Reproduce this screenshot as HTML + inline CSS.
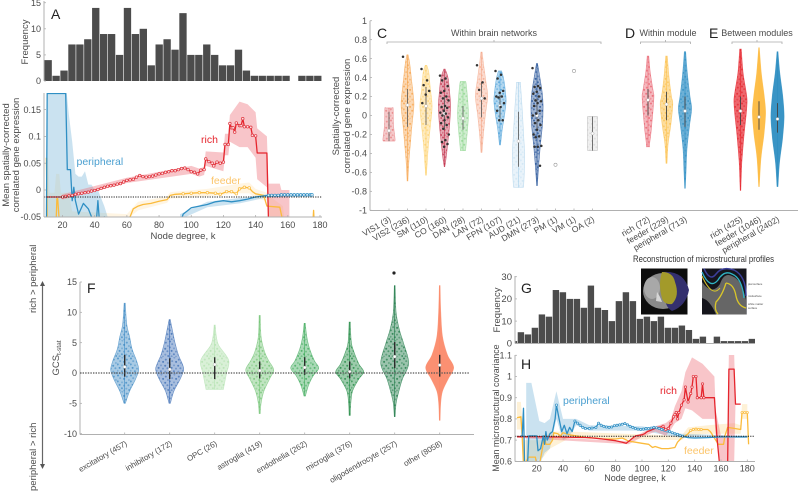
<!DOCTYPE html>
<html lang="en">
<head>
<meta charset="utf-8">
<title>Gene expression and microstructure figure</title>
<style>
html,body{margin:0;padding:0;background:#fff;}
svg{display:block;font-family:"Liberation Sans",sans-serif;filter:blur(0.3px);}
text{fill:#4a4a4a;}
.letter{font-size:14px;fill:#222;}
.tick{font-size:9px;}
.lab{font-size:9.5px;}
.cat{font-size:8.5px;}
.catf{font-size:7.9px;}
</style>
</head>
<body>
<svg id="figure" width="798" height="491" viewBox="0 0 798 491" xmlns="http://www.w3.org/2000/svg">
  <defs id="defs">
    <clipPath id="clipB"><rect x="44" y="93" width="278" height="124"/></clipPath>
    <clipPath id="clipH"><rect x="515" y="355" width="240" height="106.5"/></clipPath>
    <clipPath id="clipG"><rect x="515" y="270" width="240" height="74"/></clipPath>
  </defs>

  <g id="panelA">
    <text class="letter" x="51" y="19">A</text>
    <text class="lab" transform="translate(28 42) rotate(-90)" text-anchor="middle">Frequency</text>
  </g>

  <g id="panelB">
    <text class="lab" transform="translate(9 155) rotate(-90)" text-anchor="middle">Mean spatially-corrected</text>
    <text class="lab" transform="translate(19 155) rotate(-90)" text-anchor="middle">correlated gene expression</text>
    <text class="lab" x="183" y="239" text-anchor="middle">Node degree, k</text>
  </g>

  <g id="panelC">
    <text class="letter" x="377" y="38">C</text>
    <text class="lab" transform="translate(339 116) rotate(-90)" text-anchor="middle">Spatially-corrected</text>
    <text class="lab" transform="translate(350 116) rotate(-90)" text-anchor="middle">correlated gene expression</text>
    <text class="cat" style="font-size:9px" x="494" y="36" text-anchor="middle">Within brain networks</text>
    <path d="M387 44V42H601V44M494 42V40" fill="none" stroke="#aaa" stroke-width=".8"/>
    <text class="letter" x="625" y="38">D</text>
    <text class="cat" style="font-size:9px" x="668" y="36" text-anchor="middle">Within module</text>
    <path d="M640.5 44V42H690.5V44M665.5 42V40" fill="none" stroke="#aaa" stroke-width=".8"/>
    <text class="letter" x="709" y="38">E</text>
    <text class="cat" style="font-size:9px" x="757" y="36" text-anchor="middle">Between modules</text>
    <path d="M732 44V42H782V44M757 42V40" fill="none" stroke="#aaa" stroke-width=".8"/>
  </g>

  <g id="panelF">
    <text class="letter" x="87" y="293">F</text>
    <text class="lab" transform="translate(59 358) rotate(-90)" text-anchor="middle">GCS<tspan dy="2" font-size="6.5">t-stat</tspan></text>
    <text class="lab" transform="translate(36 313) rotate(-90)">rich &gt; peripheral</text>
    <text class="lab" transform="translate(36 491) rotate(-90)">peripheral &gt; rich</text>
    <path d="M42.5 284V466" stroke="#666" stroke-width="1.2" fill="none"/>
    <path d="M42.5 281l-2.5 5h5z" fill="#555"/>
    <path d="M42.5 469l-2.5 -5h5z" fill="#555"/>
    <circle cx="394" cy="273" r="1.6" fill="#222"/>
  </g>

  <g id="panelG">
    <text class="letter" x="521" y="293">G</text>
    <text class="lab" transform="translate(500 310) rotate(-90)" text-anchor="middle">Frequency</text>
  </g>

  <g id="panelH">
    <text class="letter" x="521" y="369">H</text>
    <text class="cat" style="font-size:8.8px" transform="translate(499 408) rotate(-90)" text-anchor="middle">Mean microstructural covariance</text>
    <text class="cat" style="font-size:9px" x="635" y="481" text-anchor="middle">Node degree, k</text>
  </g>

  <g id="insets">
    <text x="633" y="262" textLength="141" lengthAdjust="spacingAndGlyphs" style="font-size:8.8px;fill:#333">Reconstruction of microstructural profiles</text>
    <g>
      <rect x="641" y="268.5" width="46.5" height="46" fill="#0d0d0d"/>
      <ellipse cx="663" cy="291" rx="20" ry="18" fill="#8a8a8a"/>
      <ellipse cx="652" cy="288" rx="8" ry="11" fill="#a8a8a8"/>
      <path d="M662 272 Q684 270 689 290 Q686 306 672 311 Q664 306 666 296 Q660 284 662 272Z" fill="#34306e"/>
      <path d="M662 272 Q673 272 675 282 Q680 296 672 304 Q664 305 662 298 Q658 284 662 272Z" fill="#a39a2a"/>
      <path d="M657 292 q3 4 5 10 l-6 -1z" fill="#d6d6d6"/>
    </g>
    <g>
      <rect x="702" y="268.5" width="44.5" height="46" fill="#15151c"/>
      <path d="M702 282 Q712 296 720 284 Q724 272 732 276 Q742 280 746 300 V314.5 H716 Q710 300 702 298Z" fill="#666"/>
      <path d="M704 268.5 Q710 282 716 274 Q722 266 734 270 Q746 276 746 296" fill="none" stroke="#3b3f99" stroke-width="1.5"/>
      <path d="M702 272 Q710 290 718 280 Q724 270 732 274 Q742 278 744 298" fill="none" stroke="#2fb4c4" stroke-width="1.3"/>
      <path d="M726 283 Q722 296 716 302 Q714 310 718 314 M726 283 Q734 284 736 296 Q738 306 746 308" fill="none" stroke="#d9c62a" stroke-width="1.3"/>
      <path d="M702 276 Q712 298 720 288" fill="none" stroke="#d9c62a" stroke-width="1"/>
    </g>
    <text x="748" y="285" style="font-size:2.8px">pial surface</text>
    <text x="748" y="297" style="font-size:2.8px">midsurface</text>
    <text x="748" y="305" style="font-size:2.8px">white matter</text>
    <text x="748" y="309" style="font-size:2.8px">surface</text>
  </g>
</svg>

<script>
/* ---------- Panel A / G histograms ---------- */
const histA = [4,1,2,7,7,8,14,9,9,5,14,9,10,3,7,8,6,13,5,5,7,5,3,3,6,2,1,1,1,1,1,0,1,1,1];
const histG = [1,5,4,7,13,12,24,23,20,20,16,26,16,15,10,19,23,19,11,12,10,12,7,7,8,6,2,3,0,3,1,1,1,1,2];
const ticksA = [0,5,10,15];
const ticksG = [0,10,20,30];

/* ---------- Panel B series ---------- */
const ticksBY = [-0.05,0,0.05,0.1,0.15];
const tickLabelsBY = ['-0.05','0','0.05','0.1','0.15'];
const ticksDegree = [20,40,60,80,100,120,140,160,180];
const bRichK = [10,14,18,20,22,24,26,28,30,32,34,36,38,40,42,44,46,48,50,52,54,56,58,60,62,64,66,68,70,72,74,76,78,80,82,84,86,88,90,92,94,96,98,100,102,104,106,108,109,111,113,114,116,118,120,121,123,124,125,126,127,128,130,131,132,133,135,137,138,140,141,147,148];
const bRichV = [-.013,-.013,-.013,-.013,-.012,-.011,-.01,-.008,-.007,-.006,-.005,-.004,-.002,-.001,.001,.003,.005,.007,.008,.009,.011,.012,.015,.018,.019,.02,.024,.027,.025,.024,.025,.026,.028,.03,.031,.033,.034,.036,.036,.038,.04,.041,.038,.034,.033,.03,.037,.038,.058,.053,.05,.045,.052,.05,.052,.085,.085,.124,.116,.116,.108,.125,.12,.12,.133,.118,.118,.117,.102,.101,.069,.069,-.06];
const bRichBandK = [20,60,100,105,108,109,120,121,123,124,130,135,140,141,147,148,155,156,161];
const bRichBandHi = [-.008,.023,.045,.04,.043,.072,.07,.105,.105,.14,.165,.16,.145,.115,.1,.012,.012,0,0];
const bRichBandLo = [-.018,.013,.03,.025,.028,.045,.035,.065,.065,.09,.08,.08,.06,.02,.005,-.06,-.06,-.06,-.06];
const bPeriK = [10,10.5,22,23,25,26,27,28,30,33,36,38,41,42,43,46,48,92,95,100,105,110,115,120,125,130,135,140,145,148,150,152,154,156,158,160,162,164,166,168,170,172,174,175];
const bPeriV = [-.06,.18,.18,.038,.038,-.02,.005,-.02,-.045,-.025,-.035,-.05,-.06,-.02,-.06,-.05,-.07,-.07,-.045,-.033,-.03,-.027,-.022,-.02,-.022,-.02,-.017,-.013,-.011,-.01,-.01,-.01,-.01,-.009,-.009,-.009,-.009,-.009,-.009,-.009,-.009,-.009,-.009,-.009];
const bPeriBandK = [10,11,22,24,26,28,30,32,34,36,38,40,42,44,46,48];
const bPeriBandHi = [-.06,.2,.2,.14,.09,.03,.025,.025,.035,.01,.01,0,0,-.015,-.03,-.05];
const bPeriBandLo = [-.06,-.06,-.06,-.06,-.06,-.06,-.06,-.06,-.06,-.06,-.06,-.06,-.06,-.06,-.06,-.06];
const bPeriBand2K = [93,110,130,147,175];
const bPeriBand2Hi = [-.045,-.022,-.015,-.008,-.006];
const bPeriBand2Lo = [-.055,-.032,-.025,-.014,-.012];
const bFeedK = [10,10.5,16,16.5,17,18,60,62,64,67,70,75,80,85,87,90,95,100,105,110,115,118,122,125,128,130,133,136,138,140,145,147,155,157,175.6,176,176.4];
const bFeedV = [.06,-.06,-.06,-.016,-.016,-.06,-.06,-.05,-.035,-.03,-.027,-.025,-.021,-.018,-.01,-.008,-.007,-.006,-.005,-.005,-.006,-.008,-.003,-.003,-.007,.002,.005,.004,-.003,-.007,-.01,-.03,-.032,-.06,-.06,-.038,-.06];
const bFeedBandK = [10,11,12,15,16,18,19,24,26,60,67,85,87,110,130,136,140,147,148,157,158];
const bFeedBandHi = [.06,.06,-.005,-.005,.03,.03,-.005,-.005,-.04,-.045,-.022,-.012,-.004,.002,.012,.014,.002,-.005,-.01,-.03,-.06];
const bFeedBandLo = [-.06,-.06,-.06,-.06,-.06,-.06,-.06,-.06,-.06,-.055,-.038,-.024,-.016,-.012,-.006,-.006,-.016,-.02,-.05,-.06,-.06];
const bFeedMarkK = [95,100,105,110,115,118,122,125,128,130,133,136];
const bFeedMarkV = [-.007,-.006,-.005,-.005,-.006,-.008,-.003,-.003,-.007,.002,.005,.004];

/* ---------- Panel C, D, E violins ---------- */
const ticksC = [-1,-.8,-.6,-.4,-.2,0,.2,.4,.6,.8,1];
const tickLabelsC = ['-1','-0.8','-0.6','-0.4','-0.2','0','0.2','0.4','0.6','0.8','1'];
const networkNames = ['VIS1 (3)','VIS2 (236)','SM (110)','CO (160)','DAN (28)','LAN (72)','FPN (107)','AUD (21)','DMN (273)','PM (1)','VM (1)','OA (2)'];
const networkColors = ['#e77f81','#f6a24a','#fdd06a','#c2304a','#8ed58e','#f5a98c','#4a9fd8','#a9d0ea','#1f4f96','#888888','#888888','#b5b5b5'];
const networkValues = [
  [.08,.07,-.1,-.25,-.27],
  [.64,.55,.4,.2,.1,-.1,-.3,-.5,-.69],
  [.53,.45,.3,.1,-.1,-.3,-.5,-.63],
  [.49,.4,.25,.1,-.1,-.3,-.45,-.54],
  [.36,.33,.15,0,-.15,-.3,-.37],
  [.67,.55,.35,.2,0,-.2,-.39],
  [.47,.38,.25,.15,0,-.15,-.31],
  [.35,.3,.1,-.2,-.4,-.6,-.74,-.76],
  [.55,.42,.25,.1,-.1,-.3,-.5,-.74],
  [], [],
  [-.01,-.03,-.19,-.35,-.37]
];
const networkDensity = [
  [.55,.65,.7,.95,.85],
  [.1,.35,.6,.92,1,.7,.45,.2,.06],
  [.12,.45,.65,.95,.7,.4,.18,.06],
  [.1,.55,.8,.95,.8,.5,.25,.05],
  [.4,.5,.75,.85,.7,.5,.4],
  [.1,.3,.7,.95,.6,.3,.08],
  [.25,.6,.85,.95,.7,.35,.08],
  [.3,.35,.55,.8,.95,.9,.8,.7],
  [.08,.4,.8,.95,.85,.55,.3,.04],
  [], [],
  [.7,.8,.8,.8,.7]
];
const networkMedian = [-.16,.11,.1,.02,-.03,.18,.1,-.27,0,-.52,.47,-.19];
const networkQ1 = [-.27,-.12,-.1,-.15,-.15,-.02,-.03,-.54,-.15,null,null,-.37];
const networkQ3 = [.04,.28,.3,.2,.1,.35,.22,.04,.18,null,null,-.01];
const networkHub = [
  [],[.62],[.49,.37,.32,.26,.22,.13],
  [.42,.39,.37,.31,.26,.24,.2,.18,.16,.1,.09,.08,.05,.03,.02,0,-.02,-.05,-.08,-.1,-.14,-.2,-.26,-.28,-.3,-.33],
  [],[.53,.35,.27,.18],[.47,.43,.39,.26,.24,.2,.2,.19,.13,.09,.05,-.05,-.05],[],
  [.5,.31,.3,.29,.25,.23,.2,.16,.15,.13,.1,.05,.02,0,-.05,-.08,-.1,-.15,-.2,-.22,-.23,-.32,-.33,-.33,-.53],
  [],[],[]
];
const moduleNames = ['rich (72)','feeder (229)','peripheral (713)','rich (425)','feeder (1046)','peripheral (2402)'];
const moduleColors = ['#e8616e','#fcc14f','#2f8fc4','#e5252d','#fdbb40','#2e8ec2'];
const moduleSlots = [14,15,16,19,20,21];
const moduleValues = [
  [.627,.45,.25,.2,.05,-.15,-.3,-.33],
  [.627,.4,.2,.12,-.1,-.3,-.504],
  [.673,.45,.2,.07,-.1,-.35,-.6,-.768],
  [.7,.45,.25,.15,0,-.2,-.5,-.79],
  [.715,.45,.2,.02,-.2,-.45,-.75],
  [.673,.45,.2,-.02,-.25,-.5,-.75]
];
const moduleDensity = [
  [.12,.35,.8,.9,.75,.5,.25,.25],
  [.12,.4,.75,.95,.65,.25,.08],
  [.1,.35,.75,1,.7,.3,.15,.05],
  [.12,.4,.85,1,.85,.55,.2,.05],
  [.05,.35,.8,1,.75,.3,.05],
  [.08,.35,.8,1,.75,.3,.08]
];
const moduleMedian = [.163,.118,.047,.047,-.016,-.037];
const moduleQ1 = [.0,-.05,-.12,-.1,-.15,-.18];
const moduleQ3 = [.28,.25,.2,.2,.15,.13];
const moduleOpacity = [.45,.55,.7,.7,.95,.95];

/* ---------- Panel F violins ---------- */
const ticksF = [-10,-5,0,5,10,15];
const cellNames = ['excitatory (457)','inhibitory (172)','OPC (26)','astroglia (419)','endothelia (262)','microglia (376)','oligodendrocyte (257)','other (8058)'];
const cellColors = ['#3f8ac4','#3f6fb5','#b4e2b0','#74c476','#41ab5d','#238b45','#1f7a48','#fb8a6a'];
const cellValues = [
  [11.5,8,6,4,2,.5,-1,-3,-5],
  [8.8,7,5,3,1.5,.5,-1,-3,-5],
  [7.9,6,4.5,2.1,0,-1.5,-2.7],
  [9.5,6,3.5,2,.5,-1,-3,-5,-6.7],
  [8.2,6,4,2,.8,-.5,-2,-3.8],
  [8.4,5,3.5,1.5,.2,-1,-3,-5,-7],
  [14.4,10,7,5,1.6,-1,-3,-5,-7.2],
  [14.4,10,6,3,.9,-1,-3,-5,-7.8]
];
const cellDensity = [
  [.04,.15,.35,.52,.85,1,.78,.35,.05],
  [.04,.2,.38,.62,.9,1,.75,.3,.05],
  [.04,.12,.3,1,.85,.72,.62],
  [.04,.1,.35,.65,1,.7,.3,.1,.04],
  [.04,.15,.35,.7,1,.6,.28,.05],
  [.04,.12,.3,.65,1,.65,.2,.08,.04],
  [.03,.1,.35,.62,1,.55,.3,.1,.03],
  [.03,.08,.2,.55,1,.6,.2,.07,.03]
];
const cellMedian = [1,.6,1.4,.4,.9,.2,2.7,1.3];
const cellQ1 = [-.6,-1,-1,-.9,-.3,-.9,.8,-.6];
const cellQ3 = [3,2.4,2.6,1.9,2.6,1.9,5.1,3];
const cellOpacity = [.45,.45,.5,.45,.45,.45,.45,.95];

/* ---------- Panel H series ---------- */
const ticksHY = [.6,.7,.8,.9,1,1.1];
const tickLabelsHY = ['0.6','0.7','0.8','0.9','1','1.1'];
const hRichK = [5,20,40,60,70,80,85,88,90,93,95,97,100,102,104,106,108,110,112,114,116,118,120,122,124,125,126,127,128,130,132,133,135,137,138,139,141,142,145,146,147,155,157,159,165,166,170,171,175];
const hRichV = [.716,.716,.714,.712,.705,.697,.69,.685,.695,.71,.72,.722,.725,.73,.74,.745,.75,.755,.76,.762,.765,.75,.755,.78,.81,.82,.83,.8,.83,.865,.89,.95,.88,.92,.95,1,1,.9,.9,.965,.9,.9,.71,.58,.58,1.035,1.035,.87,.87];
const hRichBandK = [5,90,100,110,118,122,125,130,133,138,146,155,156,160,165,166,170,171];
const hRichBandHi = [.721,.695,.735,.765,.78,.8,.86,.93,1.02,1.09,1.06,1.0,.84,.72,.72,1.12,1.12,.87];
const hRichBandLo = [.711,.68,.715,.74,.72,.75,.78,.8,.85,.84,.8,.8,.72,.58,.58,.58,.58,.87];
const hPeriK = [8,9,10,10.8,13,14,20,21,23,25,26,27,28,30,32,34,35,37,39,41,43,45,47,49,51,53,55,57,60,62,65,67,69,71,73,75,77,79,81,83,85,87,89,91,93,95,97,99,101,103,105,107,109,111,113,115,117,119,121,123,125,127,129,131,135,140,150,160,170,180];
const hPeriV = [.72,.72,.85,.58,.58,.72,.72,.65,.66,.72,.68,.74,.7,.73,.74,.8,.865,.8,.74,.77,.73,.76,.74,.79,.78,.77,.76,.755,.755,.757,.76,.78,.77,.765,.762,.76,.762,.768,.77,.772,.775,.778,.772,.765,.76,.755,.752,.75,.752,.755,.755,.757,.76,.758,.755,.75,.747,.743,.74,.735,.73,.727,.722,.718,.712,.71,.712,.715,.715,.715];
const hPeriBandK = [12,16,22,26,30,35,40,45,50,60,100,130,180];
const hPeriBandHi = [.97,.97,.79,.78,.8,.93,.8,.8,.8,.77,.765,.73,.72];
const hPeriBandLo = [.58,.58,.58,.64,.66,.8,.7,.72,.77,.745,.745,.71,.71];
const hFeedK = [5,8,9,10,14,19,20,22,24,26,27,30,32,33,36,38,40,45,50,55,60,65,70,80,85,90,95,100,105,108,110,115,120,125,127,130,133,135,137,139,141,143,145,147,150,152,155,158,162,163,165,170,175,176,178,180,181];
const hFeedV = [.805,.81,.72,.58,.62,.62,.58,.58,.65,.72,.68,.68,.7,.735,.73,.72,.735,.725,.72,.715,.71,.71,.705,.705,.71,.695,.69,.685,.68,.665,.67,.66,.66,.665,.69,.71,.72,.73,.745,.75,.752,.75,.75,.75,.75,.74,.71,.68,.68,.72,.76,.755,.75,.83,.83,.83,.68];
const hFeedBandK = [5,8,9,10,25,30,45,130,135,150,170,175,176,180];
const hFeedBandHi = [.88,.88,.8,.7,.7,.74,.74,.72,.76,.77,.78,.77,.87,.87];
const hFeedBandLo = [.75,.75,.65,.58,.62,.66,.71,.7,.72,.73,.73,.73,.8,.8];

/* ---------- helpers ---------- */
const NS = 'http://www.w3.org/2000/svg';
function make(tag, attrs, parent){
  const e = document.createElementNS(NS, tag);
  for (const k in attrs) e.setAttribute(k, attrs[k]);
  parent.appendChild(e);
  return e;
}
function linear(d0, d1, r0, r1){ return v => r0 + (v - d0) * (r1 - r0) / (d1 - d0); }
const panelA = document.getElementById('panelA');
const panelB = document.getElementById('panelB');
const panelC = document.getElementById('panelC');
const panelF = document.getElementById('panelF');
const panelG = document.getElementById('panelG');
const panelH = document.getElementById('panelH');
const defs = document.getElementById('defs');
const AXIS = '#b0b0b0';

function axisLine(parent, x1, y1, x2, y2){
  const l = make('line', {x1, y1, x2, y2, stroke: AXIS, 'stroke-width': 1}, parent);
  
  
}
function yTicks(parent, values, labels, axisX, y, cls){
  values.forEach((v, i) => {
    const t = make('line', {x1: axisX, x2: axisX + 2, y1: y(v), y2: y(v), stroke: AXIS, 'stroke-width': .8}, parent);
    
    
    const s = make('text', {x: axisX - 3, y: y(v) + 3.2, 'text-anchor': 'end', class: cls || 'tick'}, parent);
    
    
    s.textContent = labels[i];
  });
}
function xTicks(parent, values, axisY, x, labelY){
  values.forEach(v => {
    const t = make('line', {x1: x(v), x2: x(v), y1: axisY, y2: axisY - 2, stroke: AXIS, 'stroke-width': .8}, parent);
    
    
    const s = make('text', {x: x(v), y: labelY, 'text-anchor': 'middle', class: 'tick'}, parent);
    
    
    s.textContent = v;
  });
}
function histogram(parent, values, x0, w, y, y0, clip){
  const g = make('g', clip ? {'clip-path': clip} : {}, parent);
  
  
  values.forEach((v, i) => {
    if (!v) return;
    const b = make('rect', {x: x0 + i * w, y: y(v), width: w - .6, height: y0 - y(v), fill: '#4c4c4c'}, g);
    
    
  });
}
function band(parent, ks, hi, lo, x, y, color, op, name){
  let d = ks.map((k, i) => (i ? 'L' : 'M') + x(k).toFixed(1) + ' ' + y(hi[i]).toFixed(1)).join('');
  for (let i = ks.length - 1; i >= 0; i--) d += 'L' + x(ks[i]).toFixed(1) + ' ' + y(lo[i]).toFixed(1);
  const p = make('path', {d: d + 'Z', fill: color, 'fill-opacity': op}, parent);
  
  
}
function seriesLine(parent, ks, vs, x, y, color, w, name){
  const d = ks.map((k, i) => (i ? 'L' : 'M') + x(k).toFixed(1) + ' ' + y(vs[i]).toFixed(1)).join('');
  const p = make('path', {d, fill: 'none', stroke: color, 'stroke-width': w, 'stroke-linejoin': 'round'}, parent);
  
  
}
function markers(parent, ks, vs, x, y, color, from, to, r){
  ks.forEach((k, i) => {
    if (k < from || k > to) return;
    const c = make('circle', {cx: x(k), cy: y(vs[i]), r: r || 1.3, fill: '#fff', 'fill-opacity': .85, stroke: color, 'stroke-width': .7}, parent);
    
    
  });
}
function label(parent, txt, xp, yp, color, size, name){
  const s = make('text', {x: xp, y: yp, style: 'fill:' + color + ';font-size:' + size + 'px'}, parent);
  
  
  s.textContent = txt;
}
function dotPattern(id, color, op){
  const p = make('pattern', {id, width: 13, height: 17, patternUnits: 'userSpaceOnUse'}, defs);
  const pts = [[1,1.5,.9],[5.4,.6,.5],[9.8,2.6,.8],[3.2,4.1,.6],[7.1,4.9,.95],[11.9,6,.5],[.8,7.4,.8],[5,8.4,.5],[9.2,8.8,.9],[2.6,10.9,.95],[7,11.6,.6],[11.4,11.2,.7],[.6,13.8,.5],[4.9,14.3,.8],[9.3,14.6,.55],[12.2,16,.8],[2.6,16.2,.6],[7,16.6,.4]];
  pts.forEach(q => make('circle', {cx: q[0], cy: q[1], r: 1, fill: color, 'fill-opacity': q[2] * op}, p));
}
let patternCount = 0;
function smoothPath(pts){
  let d = '';
  for (let i = 0; i < pts.length - 1; i++){
    const p0 = pts[Math.max(i - 1, 0)], p1 = pts[i], p2 = pts[i + 1], p3 = pts[Math.min(i + 2, pts.length - 1)];
    const c1x = p1[0] + (p2[0] - p0[0]) / 6, c1y = p1[1] + (p2[1] - p0[1]) / 6;
    const c2x = p2[0] - (p3[0] - p1[0]) / 6, c2y = p2[1] - (p3[1] - p1[1]) / 6;
    d += 'C' + c1x.toFixed(1) + ' ' + c1y.toFixed(1) + ' ' + c2x.toFixed(1) + ' ' + c2y.toFixed(1) + ' ' + p2[0].toFixed(1) + ' ' + p2[1].toFixed(1);
  }
  return d;
}
function violin(parent, xc, y, values, dens, maxHalf, color, fillOp, med, q1, q3, lineColor, lineW, name){
  const g = make('g', {}, parent);
  
  
  if (!values.length){
    const c = make('circle', {cx: xc, cy: y(med), r: 1.6, fill: '#fff', stroke: '#999', 'stroke-width': .6}, g);
    
    
    return g;
  }
  const right = values.map((v, i) => [xc + dens[i] * maxHalf, y(v)]);
  const left = values.map((v, i) => [xc - dens[i] * maxHalf, y(v)]).reverse();
  const d = 'M' + right[0][0].toFixed(1) + ' ' + right[0][1].toFixed(1) + smoothPath(right) + 'L' + left[0][0].toFixed(1) + ' ' + left[0][1].toFixed(1) + smoothPath(left) + 'Z';
  const base = make('path', {d, fill: color, 'fill-opacity': fillOp, stroke: color, 'stroke-opacity': .7, 'stroke-width': .6}, g);
  
  
  if (fillOp < .9){
    const id = 'dots' + (patternCount++);
    dotPattern(id, color, fillOp < .3 ? .35 : .85);
    const tex = make('path', {d, fill: 'url(#' + id + ')'}, g);
    
    
  }
  const w = make('line', {x1: xc, x2: xc, y1: y(values[0]), y2: y(values[values.length - 1]), stroke: color, 'stroke-width': .6}, g);
  
  
  const q = make('line', {x1: xc, x2: xc, y1: y(q1), y2: y(q3), stroke: lineColor, 'stroke-width': lineW}, g);
  
  
  const m = make('circle', {cx: xc, cy: y(med), r: 1.5, fill: '#fff', stroke: '#aaa', 'stroke-width': .4}, g);
  
  
  return g;
}
function catLabel(parent, txt, xp, yp, cls){
  const s = make('text', {x: xp, y: yp, 'text-anchor': 'end', class: cls || 'cat', transform: 'rotate(-30 ' + xp + ' ' + yp + ')'}, parent);
  
  
  s.textContent = txt;
}

/* ---------- Panel A ---------- */
const yA = linear(0, 15, 81, 2.7);
axisLine(panelA, 44, 1, 44, 81);
histogram(panelA, histA, 44.5, 7.93, yA, 81);
yTicks(panelA, ticksA, ticksA, 44, yA);

/* ---------- Panel B ---------- */
const xB = linear(20, 180, 62.5, 320);
const yB = linear(0, .15, 190, 109.6);
const plotB = make('g', {'clip-path': 'url(#clipB)'}, panelB);


band(plotB, bFeedBandK, bFeedBandHi, bFeedBandLo, xB, yB, '#fdd27f', .22, 'feeder-error-band');
band(plotB, bPeriBandK, bPeriBandHi, bPeriBandLo, xB, yB, '#6baed6', .36, 'peripheral-error-band');
band(plotB, bPeriBand2K, bPeriBand2Hi, bPeriBand2Lo, xB, yB, '#6baed6', .35, 'peripheral-error-band-right');
band(plotB, bRichBandK, bRichBandHi, bRichBandLo, xB, yB, '#ee6e78', .4, 'rich-error-band');
seriesLine(plotB, bFeedK, bFeedV, xB, yB, '#fbbb3c', 1.3, 'feeder-line');
seriesLine(plotB, bPeriK, bPeriV, xB, yB, '#2f8fc4', 1.3, 'peripheral-line');
seriesLine(plotB, bRichK, bRichV, xB, yB, '#e5252d', 1.3, 'rich-line');
markers(plotB, bFeedMarkK, bFeedMarkV, xB, yB, '#fbbb3c', 90, 140);
markers(plotB, bPeriK, bPeriV, xB, yB, '#2f8fc4', 148, 176);
markers(plotB, bRichK, bRichV, xB, yB, '#e0323c', 20, 140);
const zeroB = make('line', {x1: 44, x2: 322, y1: yB(-.013), y2: yB(-.013), stroke: '#222', 'stroke-width': 1, 'stroke-dasharray': '1.2 1.2'}, panelB);


axisLine(panelB, 44, 93, 44, 217);
axisLine(panelB, 44, 217, 322, 217);
yTicks(panelB, ticksBY, tickLabelsBY, 44, yB);
xTicks(panelB, ticksDegree, 217, xB, 228);
label(panelB, 'peripheral', 76.5, 165, '#4a9fd0', 10.5, 'peripheral-series-label');
label(panelB, 'rich', 201, 143, '#e5252d', 10.5, 'rich-series-label');
label(panelB, 'feeder', 211, 184, '#fcc56a', 10.5, 'feeder-series-label');

/* ---------- Panels C, D, E ---------- */
const yC = linear(-1, 1, 210.3, 20.7);
const xC = linear(0, 1, 389, 407.5);
axisLine(panelC, 370, 20.7, 370, 210.5);
axisLine(panelC, 370, 210.5, 798, 210.5);
yTicks(panelC, ticksC, tickLabelsC, 370, yC);
networkNames.forEach((n, i) => {
  const op = i === 7 ? .25 : (i === 11 ? .2 : .42);
  const g = violin(panelC, xC(i), yC, networkValues[i], networkDensity[i], 6.4, networkColors[i], op, networkMedian[i], networkQ1[i], networkQ3[i], '#666', .9, 'violin-network-' + i);
  networkHub[i].forEach((v, j) => {
    const off = ((j * 0.618) % 1 - .5) * 9;
    const c = make('circle', {cx: xC(i) + off, cy: yC(v), r: 1.25, fill: '#333'}, g);
    
    
  });
  const t = make('line', {x1: xC(i), x2: xC(i), y1: 210.5, y2: 208.5, stroke: AXIS, 'stroke-width': .8}, panelC);
  
  
  catLabel(panelC, n, xC(i) + 2.5, 221);
});
moduleNames.forEach((n, i) => {
  const xp = xC(moduleSlots[i]);
  violin(panelC, xp, yC, moduleValues[i], moduleDensity[i], 6.6, moduleColors[i], moduleOpacity[i], moduleMedian[i], moduleQ1[i], moduleQ3[i], '#444', .9, 'violin-module-' + i);
  catLabel(panelC, n, xp + 2.5, 221);
});

/* ---------- Panel F ---------- */
const yF = linear(0, 15, 373, 282);
const xF = linear(0, 1, 124.7, 169.7);
axisLine(panelF, 80, 282, 80, 434.5);
axisLine(panelF, 80, 434.5, 474, 434.5);
yTicks(panelF, ticksF, ticksF, 80, yF);
cellNames.forEach((n, i) => {
  violin(panelF, xF(i), yF, cellValues[i], cellDensity[i], 14, cellColors[i], cellOpacity[i], cellMedian[i], cellQ1[i], cellQ3[i], '#2b2b2b', 1.4, 'violin-cell-' + i);
  const t = make('line', {x1: xF(i), x2: xF(i), y1: 434.5, y2: 432.5, stroke: AXIS, 'stroke-width': .8}, panelF);
  
  
  catLabel(panelF, n, xF(i) + 3, 445, 'catf');
});
const zeroF = make('line', {x1: 80, x2: 469, y1: yF(0), y2: yF(0), stroke: '#555', 'stroke-width': 1.2, 'stroke-dasharray': '1.4 1.2'}, panelF);



/* ---------- Panel G ---------- */
const yG = linear(0, 30, 343.3, 276.7);
histogram(panelG, histG, 510.7, 7, yG, 343.3, 'url(#clipG)');
axisLine(panelG, 515, 276, 515, 343.5);
axisLine(panelG, 515, 343.5, 755, 343.5);
yTicks(panelG, ticksG, ticksG, 515, yG, 'lab');

/* ---------- Panel H ---------- */
const xH = linear(20, 180, 536.7, 747.3);
const yH = linear(.6, 1.1, 461.3, 355.3);
const plotH = make('g', {'clip-path': 'url(#clipH)'}, panelH);


band(plotH, hFeedBandK, hFeedBandHi, hFeedBandLo, xH, yH, '#fdd27f', .32, 'feeder-error-band');
band(plotH, hPeriBandK, hPeriBandHi, hPeriBandLo, xH, yH, '#6baed6', .36, 'peripheral-error-band');
band(plotH, hRichBandK, hRichBandHi, hRichBandLo, xH, yH, '#ee6e78', .4, 'rich-error-band');
seriesLine(plotH, hFeedK, hFeedV, xH, yH, '#fbbb3c', 1.3, 'feeder-line');
seriesLine(plotH, hRichK, hRichV, xH, yH, '#e5252d', 1.3, 'rich-line');
seriesLine(plotH, hPeriK, hPeriV, xH, yH, '#2f8fc4', 1.3, 'peripheral-line');
markers(plotH, hPeriK, hPeriV, xH, yH, '#2f8fc4', 49, 131, 1.1);
markers(plotH, hPeriK.slice(16, 17), hPeriV.slice(16, 17), xH, yH, '#2f8fc4', 0, 200, 1.2);
markers(plotH, hRichK, hRichV, xH, yH, '#e0323c', 116, 147, 1.2);
markers(plotH, hFeedK, hFeedV, xH, yH, '#fbbb3c', 137, 145, 1.1);
markers(plotH, hFeedK, hFeedV, xH, yH, '#fbbb3c', 176, 180, 1.1);
const refH = make('line', {x1: 515, x2: 755, y1: yH(.718), y2: yH(.718), stroke: '#222', 'stroke-width': 1, 'stroke-dasharray': '1.2 1.2'}, panelH);


axisLine(panelH, 515, 355, 515, 461.5);
axisLine(panelH, 515, 461.5, 755, 461.5);
yTicks(panelH, ticksHY, tickLabelsHY, 515, yH);
xTicks(panelH, ticksDegree, 461.5, xH, 471.5);
label(panelH, 'peripheral', 563, 404, '#4a9fd0', 10.5, 'peripheral-series-label');
label(panelH, 'rich', 660, 394, '#e5252d', 10.5, 'rich-series-label');
label(panelH, 'feeder', 684, 454, '#fcc56a', 10.5, 'feeder-series-label');
</script>
</body>
</html>
